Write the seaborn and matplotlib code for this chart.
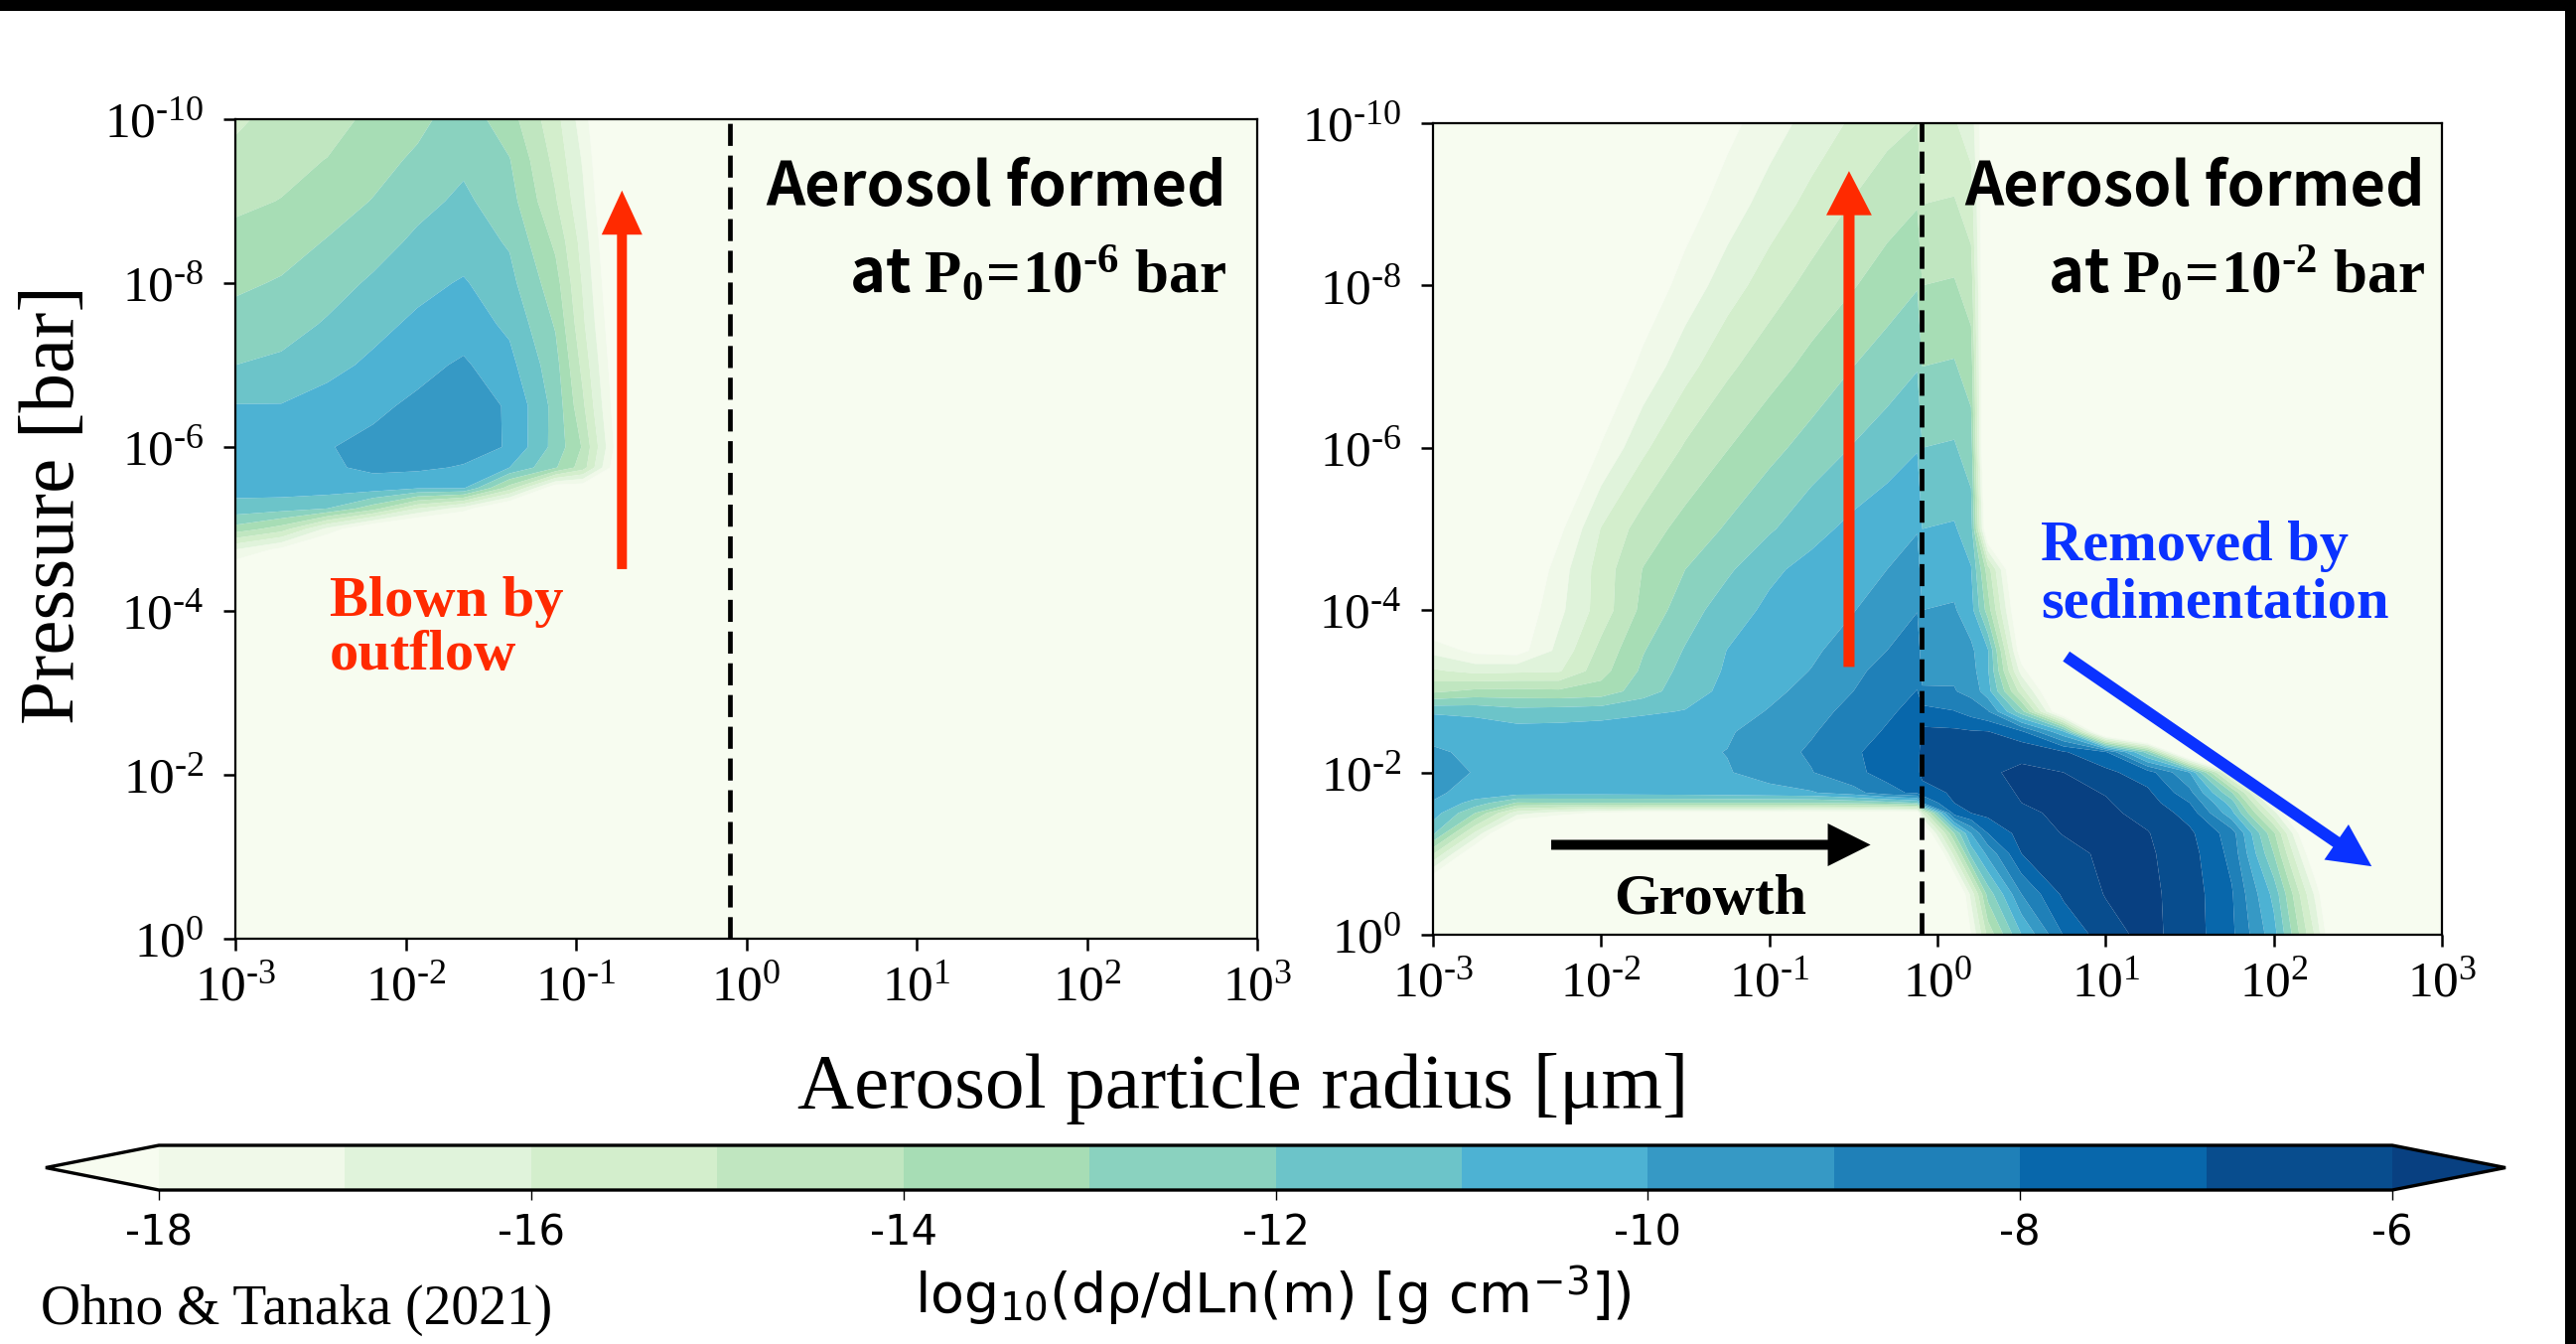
import numpy as np
import matplotlib
matplotlib.use("Agg")
import matplotlib.pyplot as plt
import seaborn as sns
from matplotlib.patches import Rectangle, FancyArrowPatch

W, H, DPI = 2594, 1353, 100
HY = "\u2010"   # hyphen used in the exponents
RHO = "\u03c1"
MU = "\u03bc"

# ---------------------------------------------------------------- data
cbar_levels = list(range(-18, -5))            # -18 ... -6, step 1
cbar_ticks = [-18, -16, -14, -12, -10, -8, -6]
x_decades = [-3, -2, -1, 0, 1, 2, 3]
y_decades = [-10, -8, -6, -4, -2, 0]
dashed_logr = -0.097                           # r ~ 0.8 um

# left panel: log10(r [um]) columns, log10(P [bar]) rows, log10(drho/dlnm)
left_logr = [-3.0, -2.73, -2.46, -2.19, -1.93, -1.66, -1.39, -1.12, -0.96, -0.80, -0.65, 3.0]
left_logp = [-10, -9.5, -9, -8.5, -8, -7.5, -7, -6.5, -6, -5.75, -5.5, -5.25, -5.0, -4.75, -4.5, -4, 0]
left_field = [
    [-15.2, -14.6, -14.4, -13.75, -13.3, -12.4, -13.6, -15.65, -17.5, -20, -23, -30],
    [-14.7, -14.3, -13.97, -13.4, -12.8, -12.2, -12.95, -15.3, -17.1, -19.7, -23, -30],
    [-14.2, -13.97, -13.5, -12.95, -12.3, -11.8, -12.6, -14.9, -16.8, -19.4, -22.5, -30],
    [-13.7, -13.45, -12.93, -12.4, -11.8, -11.5, -12.1, -14.2, -16.4, -19.1, -22.5, -30],
    [-13.2, -12.9, -12.4, -11.85, -11.3, -10.9, -11.7, -13.6, -16.1, -18.8, -22, -30],
    [-12.6, -12.4, -11.9, -11.3, -10.8, -10.5, -11.2, -13.1, -15.8, -18.5, -22, -30],
    [-12.0, -11.8, -11.3, -10.8, -10.3, -9.85, -10.7, -12.63, -15.3, -18.2, -21.5, -30],
    [-10.95, -10.95, -10.6, -10.2, -9.8, -9.55, -10.1, -12.35, -14.8, -17.9, -21, -30],
    [-10.4, -10.3, -10.05, -9.75, -9.4, -9.5, -10.1, -12.37, -14.1, -17.5, -21, -30],
    [-10.35, -10.25, -10.15, -9.8, -9.8, -10.1, -11.0, -12.9, -14.5, -18, -21.5, -30],
    [-10.6, -10.5, -10.5, -10.5, -10.9, -10.9, -14.5, -19, -19, -21, -23, -30],
    [-11.4, -11.6, -12.0, -13.6, -16, -17.5, -20, -22, -22, -23, -25, -30],
    [-13.4, -14.5, -17.3, -19.5, -20.5, -21, -22, -23, -24, -25, -26, -30],
    [-17.0, -18.3, -20, -21, -22, -23, -24, -25, -25, -26, -27, -30],
    [-19, -20, -22, -23, -24, -24, -25, -26, -26, -27, -28, -30],
    [-25, -25, -26, -26, -27, -27, -27, -28, -28, -28, -29, -30],
    [-30, -30, -30, -30, -30, -30, -30, -30, -30, -30, -30, -30],
]

# right panel
right_logr = [-3.0, -2.75, -2.5, -2.25, -2.0, -1.75, -1.5, -1.25, -1.0, -0.75, -0.5, -0.3, -0.12,
              -0.09, 0.1, 0.2, 0.3, 0.5, 0.75, 1.0, 1.25, 1.5, 1.75, 2.0, 2.25, 2.5, 3.0]
right_logp = [-10, -9, -8, -7, -6, -5, -4.5, -4, -3.5, -3.25, -3, -2.75, -2.5, -2.25, -2,
              -1.75, -1.625, -1.5, -1.25, -1, -0.5, 0]
right_field = [
    [-24, -23.2, -22.4, -21.6, -20.8, -20, -19.1, -18.3, -17.47, -16.63, -15.83, -15.3, -15.0,
     -16, -15.9, -16.5, -19.5, -24, -26, -27, -28, -28, -28, -28, -28, -29, -30],
    [-24.2, -23.3, -22.3, -21.4, -20.4, -19.45, -18.49, -17.53, -16.57, -15.68, -14.92, -14.43, -14.06,
     -15, -14.9, -15.5, -20, -24, -26, -27, -28, -28, -28, -28, -28, -29, -30],
    [-24.4, -23.3, -22.2, -21.0, -19.9, -18.75, -17.61, -16.49, -15.48, -14.69, -14.06, -13.53, -13.06,
     -14, -13.9, -14.5, -20.5, -24, -26, -27, -28, -28, -28, -28, -28, -29, -30],
    [-24.7, -23.3, -21.9, -20.5, -19.1, -17.73, -16.38, -15.2, -14.41, -13.7, -13.0, -12.5, -12.06,
     -13, -12.9, -13.5, -21, -24, -26, -27, -28, -28, -28, -28, -28, -29, -30],
    [-25, -23.3, -21.5, -19.7, -17.93, -16.21, -14.87, -14.04, -13.3, -12.61, -11.94, -11.5, -11.06,
     -12, -11.9, -12.5, -21.5, -24, -26, -27, -28, -28, -28, -28, -28, -29, -30],
    [-23, -22, -20.8, -18.27, -15.95, -14.51, -13.64, -12.88, -12.13, -11.33, -10.73, -10.36, -10.06,
     -11, -10.9, -11.5, -20, -24, -26, -27, -28, -28, -28, -28, -28, -29, -30],
    [-22, -21, -19.6, -17.5, -15.53, -13.96, -13.0, -12.17, -11.2, -10.69, -10.31, -10.0, -9.56,
     -10.5, -10.4, -10.95, -14.5, -21, -25, -26, -27, -27, -27, -27, -27, -28, -29],
    [-20, -19.8, -18.9, -17.25, -15.54, -13.72, -12.48, -11.46, -10.8, -10.43, -10.04, -9.5, -9.03,
     -10.0, -9.9, -10.6, -13.5, -20, -24, -26, -27, -27, -27, -27, -27, -28, -29],
    [-17.3, -18.3, -18.5, -16.7, -14.7, -13.06, -11.92, -10.98, -10.57, -10.16, -9.57, -9.0, -8.5,
     -9.5, -9.4, -9.8, -10.9, -19, -23, -25, -26, -26, -26, -26, -27, -28, -29],
    [-15.85, -16.3, -16.2, -16.1, -14.36, -12.8, -11.67, -10.88, -10.43, -9.97, -9.28, -8.58, -8.25,
     -9.25, -9.15, -9.6, -10.9, -17.5, -22, -25, -26, -26, -26, -26, -27, -28, -29],
    [-14.2, -13.75, -13.7, -13.8, -13.6, -12.45, -11.44, -10.75, -10.25, -9.68, -9.0, -8.46, -7.97,
     -8.9, -8.95, -9.3, -10.6, -15.5, -21, -24, -25, -25, -25, -26, -27, -28, -29],
    [-11.1, -11.2, -11.6, -11.5, -11.4, -11.15, -10.95, -10.47, -9.93, -9.35, -8.7, -8.15, -7.7,
     -7.6, -7.95, -8.4, -8.9, -12.6, -20, -24, -25, -25, -25, -26, -27, -28, -29],
    [-10.35, -10.5, -10.6, -10.6, -10.5, -10.4, -10.3, -10.1, -9.6, -9.1, -8.4, -7.9, -7.5,
     -6.8, -6.8, -6.9, -6.95, -7.8, -10.8, -21, -25, -25, -25, -26, -27, -28, -29],
    [-9.85, -10.2, -10.3, -10.4, -10.4, -10.3, -10.15, -9.98, -9.45, -8.85, -8.1, -7.7, -7.4,
     -6.5, -6.4, -6.3, -6.25, -6.2, -6.9, -7.86, -12.4, -22, -25, -26, -27, -28, -29],
    [-9.6, -10.05, -10.2, -10.3, -10.3, -10.25, -10.15, -10.05, -9.7, -9.05, -8.2, -7.7, -7.3,
     -6.6, -6.4, -6.25, -6.1, -5.85, -6.0, -6.75, -7.55, -10.0, -17.9, -24, -27, -28, -29],
    [-9.85, -10.3, -10.5, -10.6, -10.6, -10.55, -10.5, -10.4, -10.25, -10.1, -9.4, -8.3, -7.8,
     -7.6, -6.8, -6.5, -6.2, -5.95, -5.7, -6.05, -6.8, -8.7, -12.9, -20, -25, -28, -29],
    [-10.05, -11.4, -13.1, -13.0, -13.0, -13.0, -13.0, -13.0, -13.0, -13.0, -12.8, -12.5, -12.0,
     -9.0, -7.0, -6.7, -6.4, -6.0, -5.7, -5.9, -6.55, -8.0, -11.5, -18.4, -24, -28, -29],
    [-10.5, -13.0, -16.6, -17.5, -18.2, -18.5, -18.5, -18.5, -18.5, -18.7, -18.8, -19.0, -19.0,
     -16, -7.5, -7.0, -6.7, -6.2, -5.8, -5.8, -6.3, -7.4, -10.7, -16.6, -23, -28, -29],
    [-11.8, -16.2, -21, -22, -22, -22, -22, -22, -22, -22, -22, -22, -22,
     -20, -13, -10, -8.0, -6.6, -5.95, -5.7, -5.95, -6.8, -8.5, -13.8, -21, -26, -29],
    [-14.9, -19.4, -23, -23, -23, -23, -23, -23, -23, -23, -23, -23, -23,
     -23, -15.6, -11.6, -9.7, -7.0, -6.35, -5.8, -5.85, -6.6, -8.3, -13.0, -19.5, -25, -29],
    [-21, -23, -25, -25, -25, -25, -25, -25, -25, -25, -25, -25, -25,
     -25, -20.5, -16.7, -12.6, -9.0, -6.8, -5.95, -5.75, -6.5, -7.9, -11.3, -17.3, -25, -29],
    [-25, -26, -26, -26, -26, -26, -26, -26, -26, -26, -26, -26, -26,
     -26, -21.3, -18, -14.7, -11.0, -7.95, -6.4, -5.7, -6.5, -7.8, -10.6, -16.2, -24, -29],
]

panel_formation_exponents = [6, 2]

# ---------------------------------------------------------------- style
sns.set_theme(style="ticks", rc={"axes.edgecolor": "black", "xtick.color": "black",
                                 "ytick.color": "black", "text.color": "black",
                                 "axes.labelcolor": "black"})
plt.rcParams["font.family"] = ["Liberation Serif", "DejaVu Sans"]
plt.rcParams["mathtext.fontset"] = "custom"
plt.rcParams["mathtext.rm"] = "Liberation Serif"
plt.rcParams["mathtext.it"] = "Liberation Serif:italic"
plt.rcParams["mathtext.bf"] = "Liberation Serif:bold"
plt.rcParams["axes.unicode_minus"] = False
plt.rcParams["lines.scale_dashes"] = False

cmap = sns.color_palette("GnBu", as_cmap=True)
RED, BLUE = "#ff2a00", "#0a32ff"


def fx(px):
    return px / W


def fy(py):
    return 1 - py / H


def dec_label(n):
    s = str(abs(n))
    if n < 0:
        s = HY + s
    return "$\\mathrm{10^{" + s + "}}$"


fig = plt.figure(figsize=(W / DPI, H / DPI), dpi=DPI)
fig.patch.set_facecolor("white")

axL = fig.add_axes([fx(237), fy(945), fx(1266) - fx(237), fy(120) - fy(945)])
axR = fig.add_axes([fx(1443), fy(941), fx(2459) - fx(1443), fy(124) - fy(941)])

cs = None
for ax, lr, lp, fld in [(axL, left_logr, left_logp, left_field),
                        (axR, right_logr, right_logp, right_field)]:
    cs = ax.contourf(np.array(lr), np.array(lp), np.array(fld), levels=cbar_levels,
                     cmap=cmap, extend="both", antialiased=True)
    ax.set_xlim(-3, 3)
    ax.set_ylim(0, -10)
    ax.axvline(dashed_logr, color="black", lw=3.4, linestyle=(0, (16, 7)), zorder=3)
    ax.set_xticks(x_decades)
    ax.set_xticklabels([dec_label(n) for n in x_decades])
    ax.set_yticks(y_decades)
    ax.set_yticklabels([dec_label(n) for n in y_decades])
    ax.tick_params(axis="both", which="major", length=8.6, width=1.8, labelsize=37,
                   direction="out")
    ax.tick_params(axis="y", pad=14)
    ax.tick_params(axis="x", pad=10)
    ax.minorticks_off()
    for sp in ax.spines.values():
        sp.set_linewidth(1.6)
        sp.set_color("black")
        sp.set_visible(True)


def arrow(ax, tail, tip, color, hl, hw, tw):
    p = FancyArrowPatch(tail, tip,
                        arrowstyle="simple,head_length=%g,head_width=%g,tail_width=%g" % (hl, hw, tw),
                        mutation_scale=1, color=color, lw=0, shrinkA=0, shrinkB=0, zorder=5)
    ax.add_patch(p)


arrow(axL, (-0.73, -4.51), (-0.73, -9.13), RED, 32, 29.5, 7.2)
arrow(axR, (-0.526, -3.30), (-0.526, -9.41), RED, 32, 33, 8)
arrow(axR, (-2.297, -1.108), (-0.398, -1.108), "black", 31, 31, 7.2)
arrow(axR, (0.766, -3.43), (2.582, -0.843), BLUE, 31, 31, 8.6)

# panel headers
cjk = ["Noto Sans CJK JP", "DejaVu Sans"]
for expo, xr in zip(panel_formation_exponents, [1235, 2442]):
    line2 = "at $\\mathbf{P_0\\!=\\!10^{" + HY + str(expo) + "}\\ bar}$"
    fig.text(fx(xr), fy(207), "Aerosol formed", ha="right", va="baseline", fontsize=44,
             fontfamily=cjk, fontweight="bold")
    fig.text(fx(xr), fy(295), line2, ha="right", va="baseline", fontsize=44,
             fontfamily=cjk, fontweight="bold")

bold_serif = dict(fontfamily=["Liberation Serif", "DejaVu Serif"], fontweight="bold", fontsize=42)
fig.text(fx(332), fy(620), "Blown by", color=RED, ha="left", va="baseline", **bold_serif)
fig.text(fx(332), fy(674), "outflow", color=RED, ha="left", va="baseline", **bold_serif)
fig.text(fx(2055), fy(564), "Removed by", color=BLUE, ha="left", va="baseline", **bold_serif)
fig.text(fx(2055), fy(622), "sedimentation", color=BLUE, ha="left", va="baseline", **bold_serif)
fig.text(fx(1722), fy(920), "Growth", color="black", ha="center", va="baseline", **bold_serif)

# axis labels
fig.text(fx(55), fy(508), "Pressure [bar]", rotation=90, ha="center", va="center",
         fontsize=57, fontfamily=["Liberation Serif", "DejaVu Serif"])
fig.text(fx(1252), fy(1115), "Aerosol particle radius [" + MU + "m]", ha="center", va="baseline",
         fontsize=57, fontfamily=["Liberation Serif", "DejaVu Serif"])

# colorbar
cax = fig.add_axes([fx(46), fy(1198), fx(2523) - fx(46), fy(1153) - fy(1198)])
cb = fig.colorbar(cs, cax=cax, orientation="horizontal", extend="both",
                  extendfrac=0.0507, drawedges=False)
cb.set_ticks(cbar_ticks)
cb.set_ticklabels([str(t) for t in cbar_ticks], fontsize=30, fontfamily="DejaVu Sans")
cb.outline.set_linewidth(2.4)
cax.tick_params(length=7, width=1.0, pad=9, color="black")
cax.minorticks_off()

fig.text(fx(1282), fy(1322),
         "log$_{\\mathdefault{10}}$(d" + RHO + "/dLn(m) [g cm$^{\\mathdefault{-3}}$])",
         ha="center", va="baseline", fontsize=40, fontfamily="DejaVu Sans")
fig.text(fx(41), fy(1333), "Ohno & Tanaka (2021)", ha="left", va="baseline", fontsize=40,
         fontfamily=["Liberation Serif", "DejaVu Serif"])

# frame bars of the original picture
fig.add_artist(Rectangle((0, fy(11)), 1, 11 / H, transform=fig.transFigure,
                         facecolor="black", edgecolor="none", zorder=10))
fig.add_artist(Rectangle((fx(2583), 0), 11 / W, 1, transform=fig.transFigure,
                         facecolor="black", edgecolor="none", zorder=10))

fig.savefig("out.png", dpi=DPI, facecolor="white")
